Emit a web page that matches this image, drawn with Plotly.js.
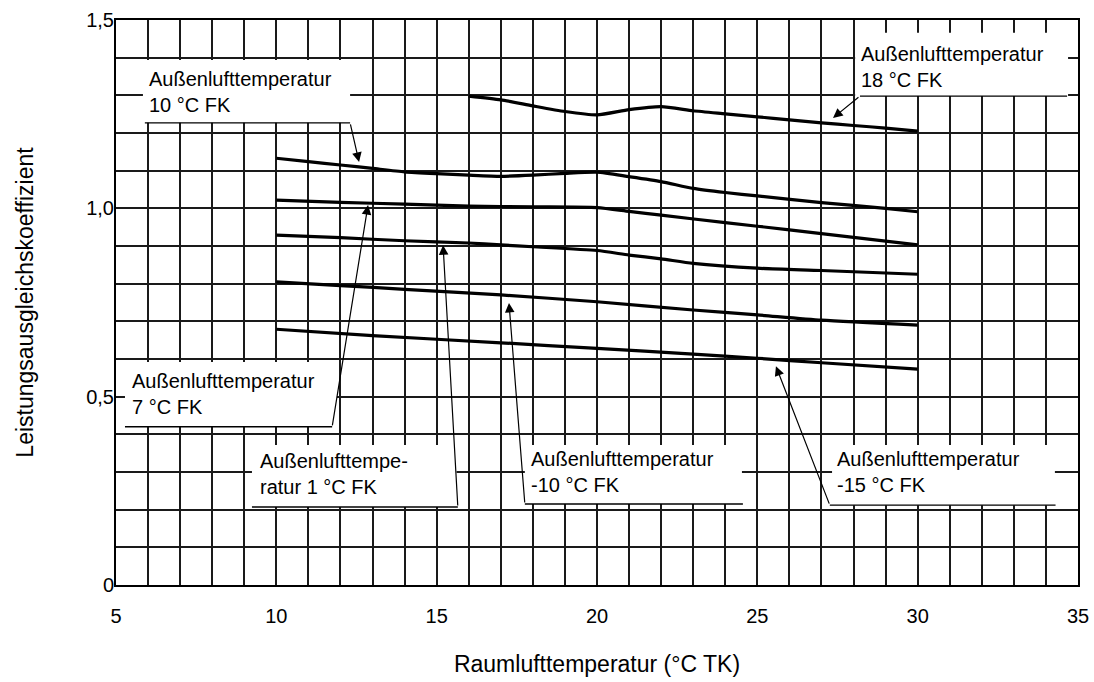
<!DOCTYPE html>
<html>
<head>
<meta charset="utf-8">
<script src="https://cdn.plot.ly/plotly-3.0.1.min.js"></script>
<style>
  html, body { margin: 0; padding: 0; background: #fff; }
  #chart { width: 1094px; height: 682px; }
</style>
</head>
<body>
<div id="chart"></div>
<script>
// Leistungsausgleichskoeffizient über Raumlufttemperatur, je Außenlufttemperatur
const x18 = [16, 17, 18, 19, 20, 21, 22, 23, 24, 25, 26, 27, 28, 29, 30];
const y18 = [1.298, 1.288, 1.272, 1.257, 1.248, 1.262, 1.270, 1.259, 1.251, 1.243, 1.235, 1.227, 1.220, 1.213, 1.205];

const x10 = [10, 11, 12, 13, 14, 15, 16, 17, 18, 19, 20, 21, 22, 23, 24, 25, 27, 29, 30];
const y10 = [1.133, 1.124, 1.115, 1.106, 1.097, 1.092, 1.088, 1.085, 1.088, 1.093, 1.096, 1.084, 1.071, 1.053, 1.042, 1.033, 1.015, 1.000, 0.991];

const x7 = [10, 12, 14, 16, 18, 20, 21, 22, 24, 26, 28, 30];
const y7 = [1.022, 1.016, 1.011, 1.006, 1.004, 1.002, 0.992, 0.982, 0.962, 0.943, 0.923, 0.903];

const x1 = [10, 12, 14, 16, 17, 18, 20, 21, 22, 23, 25, 27, 30];
const y1 = [0.929, 0.922, 0.914, 0.908, 0.903, 0.898, 0.888, 0.876, 0.866, 0.854, 0.841, 0.835, 0.825];

const xm10 = [10, 12, 14, 17, 20, 23, 25, 27, 30];
const ym10 = [0.805, 0.795, 0.785, 0.770, 0.752, 0.730, 0.717, 0.703, 0.690];

const xm15 = [10, 13, 17, 20, 23, 25, 27, 30];
const ym15 = [0.679, 0.662, 0.643, 0.628, 0.613, 0.602, 0.590, 0.573];

const xTickVals = [5, 10, 15, 20, 25, 30, 35];
const xTickText = ['5', '10', '15', '20', '25', '30', '35'];
const yTickVals = [0, 0.5, 1.0, 1.5];
const yTickText = ['0', '0,5', '1,0', '1,5'];

const labelTexts = [
  'Außenlufttemperatur<br>18 °C FK',
  'Außenlufttemperatur<br>10 °C FK',
  'Außenlufttemperatur<br>7 °C FK',
  'Außenlufttempe-<br>ratur 1 °C FK',
  'Außenlufttemperatur<br>-10 °C FK',
  'Außenlufttemperatur<br>-15 °C FK'
];

const FONT = 'Liberation Sans, Arial, sans-serif';
const GRID = '#1a1a1a';

function curve(x, y) {
  return {
    x: x, y: y, type: 'scatter', mode: 'lines',
    line: { color: '#000', width: 3.2, shape: 'spline', smoothing: 0.6 },
    hoverinfo: 'skip', showlegend: false
  };
}

const traces = [curve(x18, y18), curve(x10, y10), curve(x7, y7), curve(x1, y1), curve(xm10, ym10), curve(xm15, ym15)];

// callout layout: box [x0, x1, y0, y1], bottom rule [x0, x1, y], text anchor [x, y], leader [tail x, tail y, tip x, tip y]
const callouts = [
  { box: [28.05, 34.69, 1.298, 1.466], rule: [28.20, 34.66, 1.298], txt: [28.18, 1.375], lead: [28.20, 1.298, 27.36, 1.240] },
  { box: [5.84, 12.30, 1.227, 1.394], rule: [5.90, 12.30, 1.227], txt: [5.96, 1.309], lead: [12.30, 1.227, 12.58, 1.123] },
  { box: [5.28, 11.89, 0.420, 0.592], rule: [5.28, 11.74, 0.420], txt: [5.44, 0.507], lead: [11.74, 0.420, 12.86, 1.009] },
  { box: [9.24, 15.62, 0.207, 0.372], rule: [9.24, 15.66, 0.207], txt: [9.42, 0.295], lead: [15.66, 0.207, 15.20, 0.902] },
  { box: [17.75, 24.52, 0.215, 0.372], rule: [17.75, 24.55, 0.215], txt: [17.88, 0.299], lead: [17.75, 0.215, 17.255, 0.749] },
  { box: [27.33, 34.28, 0.212, 0.372], rule: [27.26, 34.30, 0.212], txt: [27.42, 0.299], lead: [27.26, 0.212, 25.58, 0.581] }
];

const shapes = [];
const annotations = [];
callouts.forEach(function (c, i) {
  shapes.push({
    type: 'rect', xref: 'x', yref: 'y', layer: 'above',
    x0: c.box[0], x1: c.box[1], y0: c.box[2], y1: c.box[3],
    fillcolor: '#fff', line: { width: 0 }
  });
  shapes.push({
    type: 'line', xref: 'x', yref: 'y', layer: 'above',
    x0: c.rule[0], x1: c.rule[1], y0: c.rule[2], y1: c.rule[2],
    line: { color: '#000', width: 1.4 }
  });
  annotations.push({
    xref: 'x', yref: 'y', x: c.txt[0], y: c.txt[1],
    xanchor: 'left', yanchor: 'middle', align: 'left',
    text: labelTexts[i], showarrow: false,
    font: { family: FONT, size: 20, color: '#000' }
  });
  annotations.push({
    xref: 'x', yref: 'y', axref: 'x', ayref: 'y',
    x: c.lead[2], y: c.lead[3], ax: c.lead[0], ay: c.lead[1],
    text: '', showarrow: true, arrowhead: 2, arrowsize: 1.6,
    arrowwidth: 1.2, arrowcolor: '#000', standoff: 0, startstandoff: 0
  });
});

const layout = {
  width: 1094, height: 682,
  margin: { l: 116, r: 16, t: 20, b: 97 },
  paper_bgcolor: '#fff', plot_bgcolor: '#fff',
  font: { family: FONT, color: '#000' },
  showlegend: false,
  xaxis: {
    range: [5, 35], tickmode: 'array', tickvals: xTickVals, ticktext: xTickText,
    showgrid: true, gridcolor: GRID, gridwidth: 2,
    minor: { tickmode: 'linear', tick0: 5, dtick: 1, showgrid: true, gridcolor: GRID, gridwidth: 2 },
    zeroline: false, showline: true, mirror: true, linecolor: '#000', linewidth: 2,
    ticks: '', ticklabelstandoff: 12,
    tickfont: { family: FONT, size: 20, color: '#000' },
    title: { text: 'Raumlufttemperatur (°C TK)', font: { family: FONT, size: 23, color: '#000' }, standoff: 30 },
    automargin: false, fixedrange: true
  },
  yaxis: {
    range: [0, 1.5], tickmode: 'array', tickvals: yTickVals, ticktext: yTickText,
    showgrid: true, gridcolor: GRID, gridwidth: 2,
    minor: { tickmode: 'linear', tick0: 0, dtick: 0.1, showgrid: true, gridcolor: GRID, gridwidth: 2 },
    zeroline: false, showline: true, mirror: true, linecolor: '#000', linewidth: 2,
    ticks: '', ticklabelstandoff: -4,
    tickfont: { family: FONT, size: 20, color: '#000' },
    title: { text: 'Leistungsausgleichskoeffizient', font: { family: FONT, size: 23, color: '#000' }, standoff: 46 },
    automargin: false, fixedrange: true
  },
  shapes: shapes,
  annotations: annotations
};

Plotly.newPlot('chart', traces, layout, { staticPlot: true, displayModeBar: false });
</script>
</body>
</html>
